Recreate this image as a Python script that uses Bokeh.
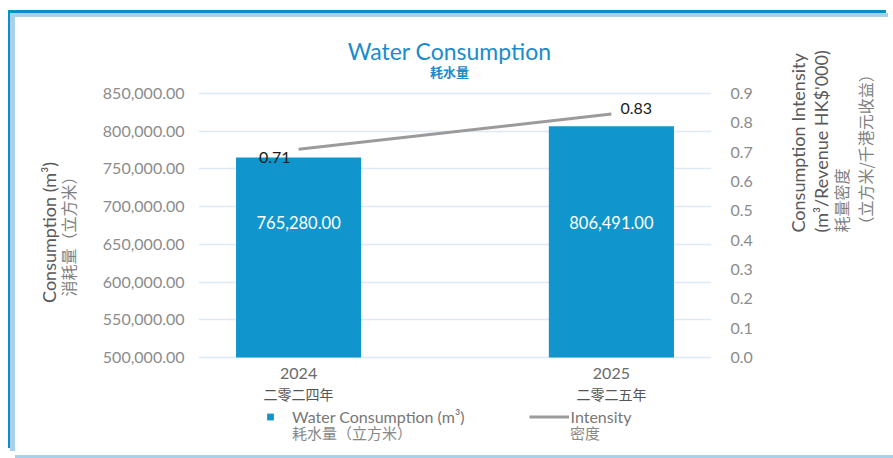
import math
from bokeh.plotting import figure
from bokeh.models import (ColumnDataSource, Range1d, LinearAxis, NumeralTickFormatter,
                          FactorRange, FixedTicker, Legend, LegendItem)
from bokeh.embed import file_html
from bokeh.resources import INLINE
from bokeh.core.properties import value

# ---- data ----
years = ["2024", "2025"]
year_labels_cn = ["二零二四年", "二零二五年"]
consumption = [765280.00, 806491.00]
intensity = [0.71, 0.83]
left_ticks = [500000, 550000, 600000, 650000, 700000, 750000, 800000, 850000]
right_ticks = [0.0, 0.1, 0.2, 0.3, 0.4, 0.5, 0.6, 0.7, 0.8, 0.9]

BLUE = "#1096cc"
TITLE_BLUE = "#1a8ccb"
GRAY = "#8c8c8c"
DARK = "#595959"
LIGHT = "#7f7f7f"
LINE_GRAY = "#9b9b9b"
FONT = "Lato"
CJK = "Noto Sans CJK SC"
PAD = -0.18

# layout (page pixels): gridded area and the (taller) plot frame that also holds titles/legend
GRID_TOP, GRID_BOT = 93, 357
FRAME_TOP, FRAME_BOT = 17, 447

y0, y1 = left_ticks[0], left_ticks[-1]
r0, r1 = right_ticks[0], right_ticks[-1]
ppl = (y1 - y0) / (GRID_BOT - GRID_TOP)
ppr = (r1 - r0) / (GRID_BOT - GRID_TOP)


def ly(px):
    return y0 + (GRID_BOT - px) * ppl


p = figure(width=878, height=438, output_backend="svg", toolbar_location=None, title=None,
           x_range=FactorRange(*years, range_padding=PAD, range_padding_units="absolute"),
           y_range=Range1d(y0 - (FRAME_BOT - GRID_BOT) * ppl, y1 + (GRID_TOP - FRAME_TOP) * ppl),
           min_border_left=183, min_border_right=182, min_border_top=0, min_border_bottom=8)
p.margin = (17, 0, 0, 15)
p.styles = {"box-shadow": "-5px -4px 0 0 #a9d0ea, -7px -7px 0 0 #0b8dcb, 0 3px 0 0 #a9d0ea"}
p.extra_y_ranges = {"int": Range1d(r0 - (FRAME_BOT - GRID_BOT) * ppr, r1 + (GRID_TOP - FRAME_TOP) * ppr)}
p.outline_line_color = None
p.background_fill_color = "white"
p.border_fill_color = "white"

src = ColumnDataSource(dict(
    year=years, cons=consumption, inten=intensity,
    cons_txt=[f"{v:,.2f}" for v in consumption],
    label_y=[y0 + 0.51 * (y1 - y0)] * len(years),
))

# titles
p.text(x=[years[0]], y=[ly(50)], text=["Water Consumption"], x_offset=151,
       text_color=TITLE_BLUE, text_font=value(FONT), text_font_size="23px",
       text_align="center", text_baseline="middle")
p.text(x=[years[0]], y=[ly(71)], text=["耗水量"], x_offset=151,
       text_color=TITLE_BLUE, text_font=value(CJK), text_font_size="13px",
       text_font_style="bold", text_align="center", text_baseline="middle")

bars = p.vbar(x="year", top="cons", bottom=y0, width=0.40, source=src,
              fill_color=BLUE, line_color=None)
p.text(x="year", y="label_y", text="cons_txt", source=src, text_color="white",
       text_font=value(FONT), text_font_size="16.5px", text_align="center",
       text_baseline="middle")

line = p.line(x="year", y="inten", source=src, y_range_name="int",
              line_color=LINE_GRAY, line_width=3)

# legend helpers (zero-size markers, invisible in the plot)
sq = p.scatter(x="year", y="cons", source=src, marker="square", size=0,
               fill_color=BLUE, line_color=None)
blank = p.scatter(x="year", y="cons", source=src, marker="square", size=0,
                  fill_alpha=0, line_alpha=0)

# data labels for intensity
p.text(x=[years[0]], y=[intensity[0]], text=[f"{intensity[0]:.2f}"], y_range_name="int",
       text_color="#1a1a1a", text_font=value(FONT), text_font_size="16px",
       text_align="right", text_baseline="middle", x_offset=-8, y_offset=8)
p.text(x=[years[1]], y=[intensity[1]], text=[f"{intensity[1]:.2f}"], y_range_name="int",
       text_color="#1a1a1a", text_font=value(FONT), text_font_size="16px",
       text_align="left", text_baseline="middle", x_offset=9, y_offset=-6)

# category labels (x axis hidden; labels drawn under the bars)
p.text(x=years, y=[ly(373)] * len(years), text=years, text_color="#6a6a6a",
       text_font=value(FONT), text_font_size="16px", text_align="center", text_baseline="middle")
p.text(x=years, y=[ly(393)] * len(years), text=year_labels_cn, text_color="#555555",
       text_font=value(CJK), text_font_size="14px", text_align="center", text_baseline="middle")
p.xaxis.visible = False


def bare_axis(ax, standoff):
    ax.axis_line_color = None
    ax.major_tick_line_color = None
    ax.minor_tick_line_color = None
    ax.major_tick_in = 0
    ax.major_tick_out = 0
    ax.minor_tick_in = 0
    ax.minor_tick_out = 0
    ax.major_label_standoff = standoff
    return ax


def label_axis(text, color, font, size, standoff, orient, rng=None):
    kw = dict(y_range_name=rng) if rng else {}
    ax = bare_axis(LinearAxis(ticker=FixedTicker(ticks=[]), axis_label=text, **kw), 0)
    ax.axis_label_standoff = standoff
    ax.axis_label_text_font = font
    ax.axis_label_text_font_size = size
    ax.axis_label_text_font_style = "normal"
    ax.axis_label_text_color = color
    ax.axis_label_orientation = orient
    return ax


# left axis
la = bare_axis(p.yaxis[0], 14)
la.ticker = FixedTicker(ticks=left_ticks)
la.formatter = NumeralTickFormatter(format="0,0.00")
la.major_label_text_font = FONT
la.major_label_text_font_size = "16px"
la.major_label_text_color = GRAY
la.axis_label = "消耗量（立方米）"
la.axis_label_text_font = CJK
la.axis_label_text_font_size = "16px"
la.axis_label_text_font_style = "normal"
la.axis_label_text_color = LIGHT
la.axis_label_standoff = 20
p.add_layout(label_axis("Consumption (m³)", DARK, FONT, "18px", -7, "parallel"), "left")

# right axis
ra = bare_axis(LinearAxis(y_range_name="int", ticker=FixedTicker(ticks=right_ticks),
                          formatter=NumeralTickFormatter(format="0.0")), 19)
ra.major_label_text_font = FONT
ra.major_label_text_font_size = "16px"
ra.major_label_text_color = GRAY
ra.axis_label = "Consumption Intensity"
ra.axis_label_text_font = FONT
ra.axis_label_text_font_size = "18px"
ra.axis_label_text_font_style = "normal"
ra.axis_label_text_color = DARK
ra.axis_label_standoff = 42
ra.axis_label_orientation = math.pi / 2
p.add_layout(ra, "right")
p.add_layout(label_axis("(m³/Revenue HK$'000)", DARK, FONT, "18px", -2, math.pi / 2, "int"), "right")
p.add_layout(label_axis("耗量密度", LIGHT, CJK, "16px", -5, math.pi / 2, "int"), "right")
p.add_layout(label_axis("（立方米/千港元收益）", LIGHT, CJK, "16px", -3, math.pi / 2, "int"), "right")

p.xgrid.grid_line_color = None
p.ygrid.grid_line_color = "#dde9f4"
p.ygrid.grid_line_width = 1.5
p.ygrid.ticker = FixedTicker(ticks=left_ticks)

# legends: row 1 (English), row 2 (Chinese), inside the frame below the category labels
common = dict(orientation="horizontal",
              glyph_width=40, glyph_height=17, label_height=17, label_width=89,
              label_standoff=2, padding=0, margin=0,
              border_line_color=None, background_fill_alpha=0)
leg1 = Legend(items=[LegendItem(label="Water Consumption (m³)", renderers=[sq]),
                     LegendItem(label="Intensity", renderers=[line])],
              location=(52, FRAME_BOT - 425.5),
              label_text_color="#777777", label_text_font=FONT, label_text_font_size="16px",
              spacing=64, **common)
leg2 = Legend(items=[LegendItem(label="耗水量（立方米）", renderers=[blank]),
                     LegendItem(label="密度", renderers=[blank])],
              location=(52, FRAME_BOT - 442.5),
              label_text_color="#888888", label_text_font=CJK, label_text_font_size="15px",
              spacing=116, **common)
p.add_layout(leg1, "center")
p.add_layout(leg2, "center")

open("out.html", "w").write(file_html(p, INLINE))
